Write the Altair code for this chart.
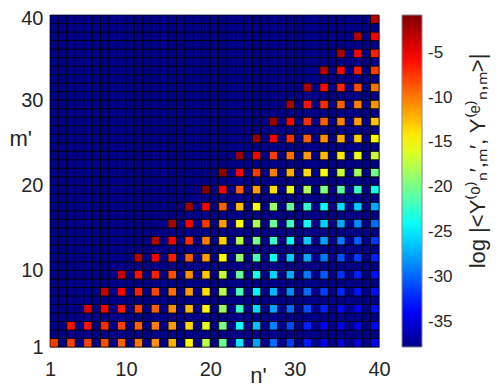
import altair as alt
import pandas as pd

# ---- data ----
n_ticks = [1, 10, 20, 30, 40]
m_ticks = [1, 10, 20, 30, 40]
cbar_ticks = [-35, -30, -25, -20, -15, -10, -5]
v_min, v_max = -37.8, -0.8
background_value = -37.8

# values for odd m' rows, at odd n' = m', m'+2, ..., 39
row_m1 = [-7.7, -7.8, -8.0, -8.4, -9.0, -9.8, -10.8, -12.0, -14.7, -17.5, -20.5, -25.0, -27.8, -29.8, -31.5, -32.8, -34.3, -35.0, -35.0, -34.0]
row_m3 = [-6.0, -6.1, -7.0, -7.8, -9.0, -10.1, -11.2, -13.3, -16.0, -20.0, -24.0, -26.5, -29.0, -31.0, -32.6, -33.7, -34.3, -34.6, -33.6]
row_m5 = [-4.2, -5.4, -6.3, -7.8, -9.0, -10.7, -12.4, -14.7, -18.7, -22.2, -25.6, -27.7, -29.7, -30.9, -32.6, -33.5, -34.1, -33.4]
row_m7 = [-3.3, -5.4, -6.6, -8.0, -9.5, -11.2, -13.7, -17.7, -21.6, -24.6, -27.0, -28.6, -29.7, -31.5, -32.3, -33.0, -33.2]
row_m9 = [-3.4, -6.0, -6.6, -8.3, -10.7, -12.9, -17.0, -20.5, -23.4, -25.8, -27.4, -29.2, -30.3, -32.0, -32.6, -33.2]
row_m11 = [-2.9, -5.4, -6.6, -9.0, -11.2, -14.9, -18.7, -21.6, -23.9, -26.2, -27.4, -29.2, -30.9, -31.5, -32.6]
row_m13 = [-2.7, -5.4, -7.1, -10.1, -13.2, -17.6, -20.0, -22.2, -24.2, -26.2, -27.7, -29.2, -30.3, -31.7]
row_m15 = [-2.4, -5.4, -7.7, -11.2, -15.2, -18.2, -20.5, -22.2, -23.9, -25.9, -27.4, -28.6, -29.7]
row_m17 = [-2.0, -5.4, -9.0, -12.4, -15.2, -18.8, -20.8, -22.5, -24.2, -25.6, -26.2, -27.4]
row_m19 = [-0.9, -5.4, -9.0, -11.3, -13.6, -15.8, -17.8, -19.6, -21.0, -22.2, -23.6]
row_m21 = [-1.3, -5.4, -7.7, -10.1, -11.8, -13.5, -15.2, -17.0, -18.2, -20.0]
row_m23 = [-1.8, -5.4, -7.7, -9.5, -11.2, -12.4, -14.1, -15.5, -17.0]
row_m25 = [-1.8, -5.4, -7.1, -9.0, -10.7, -11.8, -13.0, -14.7]
row_m27 = [-1.8, -5.4, -7.1, -9.0, -10.1, -11.2, -12.7]
row_m29 = [-2.3, -6.0, -7.1, -9.0, -10.1, -10.9]
row_m31 = [-2.5, -5.8, -6.7, -8.3, -9.8]
row_m33 = [-2.9, -5.4, -6.4, -7.7]
row_m35 = [-2.4, -5.4, -6.6]
row_m37 = [-2.8, -5.4]
row_m39 = [-2.8]

rows = {
    1: row_m1, 3: row_m3, 5: row_m5, 7: row_m7, 9: row_m9, 11: row_m11,
    13: row_m13, 15: row_m15, 17: row_m17, 19: row_m19, 21: row_m21,
    23: row_m23, 25: row_m25, 27: row_m27, 29: row_m29, 31: row_m31,
    33: row_m33, 35: row_m35, 37: row_m37, 39: row_m39,
}

# jet colormap stops
jet_colors = ["#000089", "#0000ff", "#00ffff", "#ffff00", "#ff0000", "#800000"]
jet_pos = [0.0, 0.111, 0.365, 0.619, 0.873, 1.0]

records = []
for m in range(1, 40):
    for n in range(1, 40):
        val = background_value
        if m in rows and n % 2 == 1 and n >= m:
            val = rows[m][(n - m) // 2]
        records.append({"n": n, "m": m, "v": val})
df = pd.DataFrame(records)

FONT = "Liberation Sans"
TXT = "#262626"

color_scale = alt.Scale(
    domain=[v_min + p * (v_max - v_min) for p in jet_pos],
    range=jet_colors,
    interpolate="rgb",
)

cbar_title = "log |<Y⁽ᵒ⁾ₙ′,ₘ′, Y⁽ᵉ⁾ₙ,ₘ>|"

chart = (
    alt.Chart(df)
    .transform_calculate(n2="datum.n + 1", m2="datum.m + 1")
    .mark_rect(stroke="black", strokeWidth=0.7, opacity=1, fillOpacity=1)
    .encode(
        x=alt.X(
            "n:Q",
            scale=alt.Scale(domain=[1, 40], nice=False, zero=False),
            axis=alt.Axis(
                values=n_ticks, title="n'", ticks=False, domain=False, grid=False,
                labelFontSize=20, labelFont=FONT, labelColor=TXT, labelPadding=12,
                labelFlush=False,
                titleFontSize=22, titleFont=FONT, titleColor=TXT, titleFontWeight="normal",
                titleX=208, titleY=35, titleAlign="center", titleBaseline="alphabetic",
            ),
        ),
        x2="n2:Q",
        y=alt.Y(
            "m:Q",
            scale=alt.Scale(domain=[1, 40], nice=False, zero=False),
            axis=alt.Axis(
                values=m_ticks, title="m'", ticks=False, domain=False, grid=False,
                labelFontSize=20, labelFont=FONT, labelColor=TXT, labelPadding=7,
                labelFlush=False,
                labelOffset=alt.condition("datum.value == 40", alt.value(3), alt.value(0)),
                titleFontSize=22, titleFont=FONT, titleColor=TXT, titleFontWeight="normal",
                titleAngle=0, titleX=-41, titleY=130, titleAlign="left",
                titleBaseline="alphabetic",
            ),
        ),
        y2="m2:Q",
        color=alt.Color(
            "v:Q",
            scale=color_scale,
            legend=alt.Legend(
                orient="none", legendX=352, legendY=0, direction="vertical",
                gradientLength=332, gradientThickness=20,
                gradientStrokeColor="#888888", gradientStrokeWidth=1,
                values=cbar_ticks, labelExpr="toString(datum.value)",
                labelFontSize=17, labelFont=FONT, labelColor=TXT, labelOffset=6,
                labelOverlap=False, title=None, padding=0,
            ),
        ),
    )
    .properties(
        width=329, height=332,
        autosize=alt.AutoSizeParams(type="none"),
        padding={"left": 42, "top": 7, "right": 113, "bottom": 43},
        title=alt.TitleParams(
            text=cbar_title, orient="right", angle=270, frame="group",
            anchor="middle", offset=-7, fontSize=22, font=FONT, color=TXT,
            fontWeight="normal", baseline="top", dx=20,
        ),
    )
    .configure_view(stroke="#999999", fill="black")
)

chart.save("out.html", embed_options={"renderer": "svg", "actions": False})
